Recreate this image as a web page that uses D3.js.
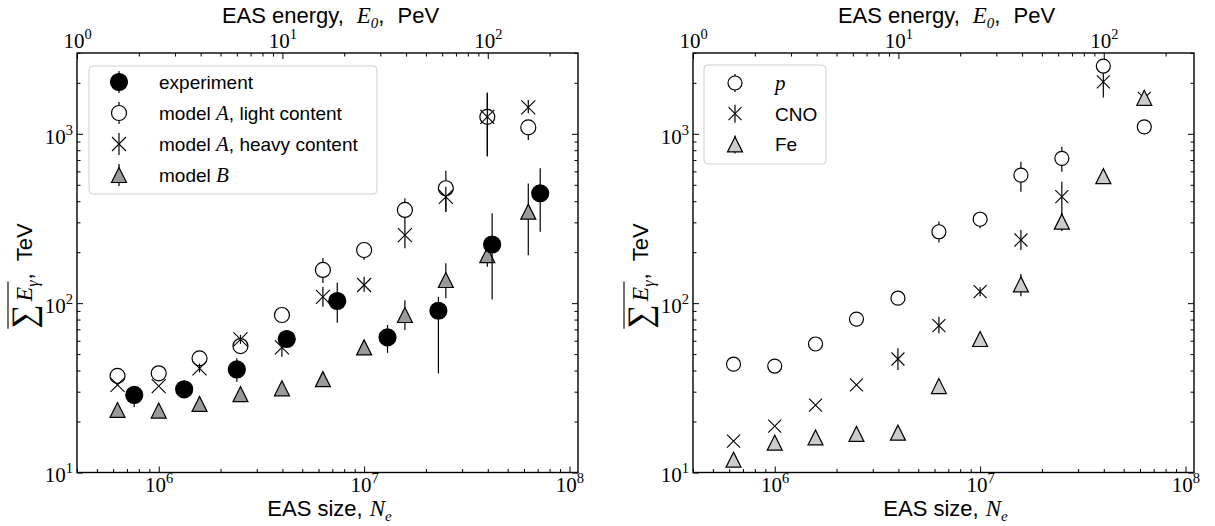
<!DOCTYPE html>
<html><head><meta charset="utf-8">
<script src="https://cdn.jsdelivr.net/npm/d3@7"></script>
<style>
body{margin:0;background:#fff}
svg{display:block}
</style></head><body>
<svg id="fig" width="1215" height="526"></svg>
<script>
// EAS size bins shared by all model series
const neBins = [6.3e5, 1e6, 1.58e6, 2.5e6, 3.98e6, 6.3e6, 1e7, 1.58e7, 2.5e7, 3.98e7, 6.3e7];

// Left panel: experiment
const expNe  = [7.6e5, 1.33e6, 2.4e6, 4.2e6, 7.4e6, 1.3e7, 2.3e7, 4.2e7, 7.2e7];
const expVal = [28.7, 31.0, 40.6, 61.4, 103, 62.8, 90.2, 222, 445];
const expLo  = [24.4, 31.0, 34.4, 58.1, 76.5, 50.9, 38.5, 105, 264];
const expHi  = [32.1, 31.0, 47.2, 64.9, 132, 74.3, 109, 339, 625];
// Left panel: model A, light content
const lightVal = [37.2, 38.5, 47.2, 55.8, 85.1, 157, 206, 355, 477, 1259, 1091];
const lightLo  = [37.2, 38.5, 47.2, 55.8, 85.1, 131.5, 179.5, 296, 347, 738, 918];
const lightHi  = [37.2, 38.5, 47.2, 55.8, 85.1, 184.5, 230, 416, 605, 1746, 1205];
// Left panel: model A, heavy content
const heavyVal = [32.9, 32.4, 41.2, 61.1, 54.8, 109, 128, 252, 424, 1259, 1433];
const heavyLo  = [32.9, 32.4, 39.0, 57.5, 48.3, 95.3, 116.7, 211, 347, 738, 1324];
const heavyHi  = [32.9, 32.4, 44.0, 65.0, 59.2, 125, 143, 297, 486, 1746, 1581];
// Left panel: model B
const modelBVal = [23.4, 23.2, 25.4, 29.0, 31.4, 35.6, 54.8, 85.1, 137, 192, 347];
const modelBLo  = [23.4, 23.2, 25.4, 29.0, 31.4, 35.6, 53.0, 69.3, 107, 164, 192];
const modelBHi  = [23.4, 23.2, 25.4, 29.0, 31.4, 35.6, 57.0, 104, 172, 206, 509];

// Right panel: primary nuclei
const pVal = [43.6, 42.5, 57.4, 80.5, 107, 264, 313, 570, 716, 2512, 1099];
const pLo  = [43.6, 42.5, 57.4, 80.5, 107, 228, 277, 455, 597, 2300, 1099];
const pHi  = [43.6, 42.5, 57.4, 80.5, 107, 303, 347, 684, 838, 2700, 1099];
const cnoVal = [15.3, 18.8, 25.0, 32.9, 46.8, 73.6, 117, 236, 425, 2028, 1618];
const cnoLo  = [15.3, 18.8, 25.0, 32.9, 40.3, 66.4, 110, 206, 270, 1640, 1480];
const cnoHi  = [15.3, 18.8, 25.0, 32.9, 54.1, 83.2, 124, 270, 521, 2276, 1811];
const feVal = [11.9, 15.0, 16.1, 16.9, 17.2, 32.4, 61.4, 129, 303, 562, 1632];
const feLo  = [11.9, 15.0, 16.1, 16.9, 17.2, 32.4, 61.4, 110, 267, 562, 1632];
const feHi  = [11.9, 15.0, 16.1, 16.9, 17.2, 32.4, 61.4, 148.5, 339, 562, 1632];

// Axis limits
const neDomain = [4e5, 1.1e8];
const e0Domain = [1, 275];
const sumDomain = [10, 3000];

const svg = d3.select("#fig");
const W = 501, H = 419.5, TOP = 53;
const SANS = '"Liberation Sans",Arial,sans-serif';
const SERIF = '"Liberation Serif","Times New Roman",serif';

function logSplit(domain) {
  const majors = [], minors = [];
  const [a, b] = domain;
  for (let e = Math.floor(Math.log10(a)); e <= Math.ceil(Math.log10(b)); e++) {
    for (let k = 1; k <= 9; k++) {
      const v = k * Math.pow(10, e);
      if (v >= a * 0.9999 && v <= b * 1.0001) (k === 1 ? majors : minors).push(v);
    }
  }
  return {majors, minors};
}

// tick text as 10^n, serif with a raised exponent
function powerLabels(sel) {
  sel.selectAll(".tick text").each(function(d) {
    const t = d3.select(this).text(null)
      .attr("font-family", SERIF).attr("font-size", 21).attr("fill", "#000");
    const ex = Math.round(Math.log10(d));
    t.append("tspan").text("10");
    t.append("tspan").attr("font-size", 14.5).attr("dy", -9).text(ex);
  });
}

function styleAxis(g) {
  g.select(".domain").remove();
  g.selectAll(".tick line").attr("stroke", "#000").attr("stroke-width", 1);
}

function mathSpan(t, s, sub, size, dx) {
  const m = t.append("tspan").attr("font-family", SERIF).attr("font-style", "italic").text(s);
  if (size) m.attr("font-size", size);
  if (dx) m.attr("dx", dx);
  if (sub) {
    t.append("tspan").attr("font-family", SERIF).attr("font-style", "italic")
      .attr("font-size", 15).attr("dy", 5).text(sub);
  }
}

function drawPanel(x0, cfg) {
  const g = svg.append("g").attr("transform", `translate(${x0},${TOP})`);
  const x = d3.scaleLog().domain(neDomain).range([0, W]);
  const xt = d3.scaleLog().domain(e0Domain).range([0, W]);
  const y = d3.scaleLog().domain(sumDomain).range([H, 0]);

  const xs = logSplit(neDomain), ts = logSplit(e0Domain), ys = logSplit(sumDomain);

  // bottom axis (EAS size)
  g.append("g").attr("transform", `translate(0,${H})`)
    .call(d3.axisBottom(x).tickValues(xs.minors).tickSizeInner(-3.5).tickSizeOuter(0).tickFormat(""))
    .call(styleAxis);
  g.append("g").attr("transform", `translate(0,${H})`)
    .call(d3.axisBottom(x).tickValues(xs.majors).tickSizeInner(-6).tickSizeOuter(0).tickPadding(5))
    .call(styleAxis).call(powerLabels);
  // top axis (EAS energy)
  g.append("g")
    .call(d3.axisTop(xt).tickValues(ts.minors).tickSizeInner(-3.5).tickSizeOuter(0).tickFormat(""))
    .call(styleAxis);
  g.append("g")
    .call(d3.axisTop(xt).tickValues(ts.majors).tickSizeInner(-6).tickSizeOuter(0).tickPadding(5))
    .call(styleAxis).call(powerLabels);
  // left axis
  g.append("g")
    .call(d3.axisLeft(y).tickValues(ys.minors).tickSizeInner(-3.5).tickSizeOuter(0).tickFormat(""))
    .call(styleAxis);
  g.append("g")
    .call(d3.axisLeft(y).tickValues(ys.majors).tickSizeInner(-6).tickSizeOuter(0).tickPadding(4))
    .call(styleAxis).call(powerLabels)
    .call(a => a.selectAll(".tick text").attr("dy", "0.45em"));
  // mirrored ticks on the right edge
  g.append("g").attr("transform", `translate(${W},0)`)
    .call(d3.axisRight(y).tickValues(ys.minors).tickSizeInner(-3.5).tickSizeOuter(0).tickFormat(""))
    .call(styleAxis);
  g.append("g").attr("transform", `translate(${W},0)`)
    .call(d3.axisRight(y).tickValues(ys.majors).tickSizeInner(-6).tickSizeOuter(0).tickFormat(""))
    .call(styleAxis);

  // frame
  g.append("rect").attr("width", W).attr("height", H)
    .attr("fill", "none").attr("stroke", "#000").attr("stroke-width", 1.4);

  // series: error bars then markers
  cfg.series.forEach(s => {
    const sg = g.append("g");
    const pts = s.ne.map((n, i) => ({n, v: s.val[i], lo: s.lo[i], hi: s.hi[i]}));
    sg.selectAll("line.err").data(pts.filter(p => p.hi > p.lo)).join("line")
      .attr("x1", p => x(p.n)).attr("x2", p => x(p.n))
      .attr("y1", p => y(p.lo)).attr("y2", p => y(p.hi))
      .attr("stroke", "#000").attr("stroke-width", 1.2);
    pts.forEach(p => marker(sg, s.m, x(p.n), y(p.v), s.size));
  });

  // legend
  const L = cfg.legend;
  g.append("rect").attr("x", L.x - x0).attr("y", L.y - TOP).attr("width", L.w).attr("height", L.h)
    .attr("rx", 4).attr("fill", "#fff").attr("fill-opacity", 0.85)
    .attr("stroke", "#d0d0d0").attr("stroke-width", 1);
  cfg.series.slice().sort((a, b) => a.order - b.order).forEach((s, i) => {
    const cy = L.row0 - TOP + i * L.dy, cx = L.mx - x0;
    g.append("line").attr("x1", cx).attr("x2", cx).attr("y1", cy - L.bar).attr("y2", cy + L.bar)
      .attr("stroke", "#000").attr("stroke-width", 1.2);
    marker(g, s.m, cx, cy, s.size);
    const t = g.append("text").attr("x", L.tx - x0).attr("y", cy + 7)
      .attr("font-family", SANS).attr("font-size", 19);
    s.label(t);
  });

  // x title
  const xl = g.append("text").attr("x", W / 2 + 2).attr("y", 463).attr("text-anchor", "middle")
    .attr("font-family", SANS).attr("font-size", 22);
  xl.append("tspan").text("EAS size,");
  mathSpan(xl, "N", "e", 23, 7);

  // top title
  const tl = g.append("text").attr("x", W / 2 + 3).attr("y", -30).attr("text-anchor", "middle")
    .attr("font-family", SANS).attr("font-size", 22);
  tl.append("tspan").text("EAS energy,");
  mathSpan(tl, "E", "0", 23, 13);
  tl.append("tspan").attr("dy", -5).text(",");
  tl.append("tspan").attr("dx", 13).text("PeV");

  // y title: overline(sum E_gamma), TeV
  const yg = svg.append("g").attr("transform", `translate(${x0 - 45},${cfg.ylabelY}) rotate(-90)`);
  const ym = yg.append("text").attr("font-family", SERIF).attr("font-size", 24);
  ym.append("tspan").attr("font-size", 34).attr("dy", 3).text("\u2211");
  ym.append("tspan").attr("font-style", "italic").attr("dy", -3).attr("dx", 3).text("E");
  ym.append("tspan").attr("font-style", "italic").attr("font-size", 16).attr("dy", 6).text("\u03b3");
  const w1 = ym.node().getComputedTextLength() + 4;
  const yt = yg.append("text").attr("font-family", SANS).attr("font-size", 22);
  yt.append("tspan").text(",");
  yt.append("tspan").attr("dx", 12).text("TeV");
  const w2 = yt.node().getComputedTextLength() + 12;
  const off = -(w1 + w2) / 2;
  ym.attr("x", off); yt.attr("x", off + w1);
  yg.append("line").attr("x1", off).attr("x2", off + w1 - 2).attr("y1", -24).attr("y2", -24)
    .attr("stroke", "#000").attr("stroke-width", 1.1);
}

function marker(g, m, cx, cy, size) {
  if (m === "filled" || m === "open") {
    g.append("circle").attr("cx", cx).attr("cy", cy).attr("r", size / 2)
      .attr("fill", m === "filled" ? "#000" : "#fff").attr("stroke", "#000").attr("stroke-width", 1.2);
  } else if (m === "x") {
    const h = size / 2;
    g.append("path").attr("d", `M${cx - h},${cy - h}L${cx + h},${cy + h}M${cx - h},${cy + h}L${cx + h},${cy - h}`)
      .attr("stroke", "#000").attr("stroke-width", 1.1).attr("fill", "none");
  } else {
    const h = size / 2;
    g.append("path").attr("d", `M${cx},${cy - h}L${cx - h},${cy + h}L${cx + h},${cy + h}Z`)
      .attr("fill", m).attr("stroke", "#000").attr("stroke-width", 1.2);
  }
}

const plainLabel = (txt) => t => t.append("tspan").text(txt);
const modelLabel = (sym, rest) => t => {
  t.append("tspan").text("model ");
  mathSpan(t, sym, null, 21);
  if (rest) t.append("tspan").text(rest);
};

drawPanel(77, {
  ylabelY: 276,
  legend: {x: 89, y: 66, w: 288, h: 128, row0: 82, dy: 31, mx: 119, tx: 159, bar: 11},
  series: [
    {order: 2, ne: neBins, val: lightVal, lo: lightLo, hi: lightHi, m: "open", size: 15,
     label: modelLabel("A", ", light content")},
    {order: 3, ne: neBins, val: heavyVal, lo: heavyLo, hi: heavyHi, m: "x", size: 14,
     label: modelLabel("A", ", heavy content")},
    {order: 4, ne: neBins, val: modelBVal, lo: modelBLo, hi: modelBHi, m: "#9a9a9a", size: 15,
     label: modelLabel("B")},
    {order: 1, ne: expNe, val: expVal, lo: expLo, hi: expHi, m: "filled", size: 17,
     label: plainLabel("experiment")}
  ]
});

drawPanel(693, {
  ylabelY: 276,
  legend: {x: 704, y: 65, w: 122, h: 99, row0: 83, dy: 30.7, mx: 735, tx: 775, bar: 9},
  series: [
    {order: 1, ne: neBins, val: pVal, lo: pLo, hi: pHi, m: "open", size: 14,
     label: t => mathSpan(t, "p", null, 21)},
    {order: 2, ne: neBins, val: cnoVal, lo: cnoLo, hi: cnoHi, m: "x", size: 13,
     label: plainLabel("CNO")},
    {order: 3, ne: neBins, val: feVal, lo: feLo, hi: feHi, m: "#cccccc", size: 15,
     label: plainLabel("Fe")}
  ]
});
</script>
</body></html>
